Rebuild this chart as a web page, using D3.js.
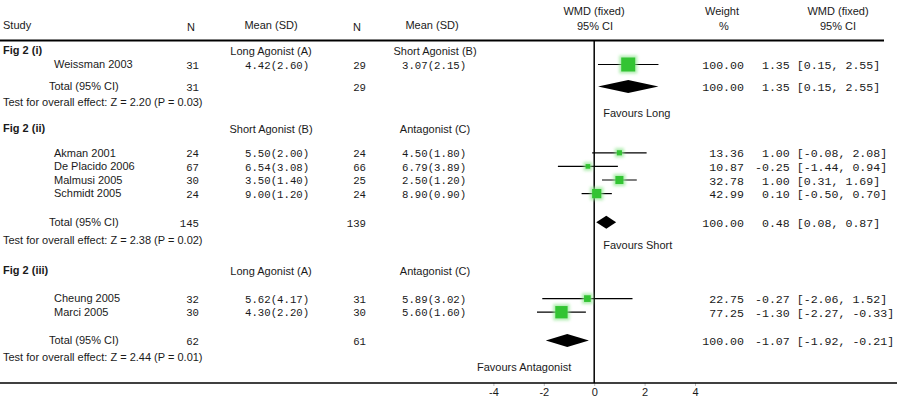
<!DOCTYPE html>
<html><head><meta charset="utf-8">
<script src="https://cdn.jsdelivr.net/npm/d3@7"></script>
<style>
html,body{margin:0;padding:0;background:#fff;}
svg{display:block;}
.t{font-family:"Liberation Sans",Arial,sans-serif;font-size:11px;fill:#1a1a1a;}
.b{font-weight:bold;}
.m{font-family:"Liberation Mono","Courier New",monospace;font-size:10.7px;fill:#1a1a1a;}
.m2{font-family:"Liberation Mono","Courier New",monospace;font-size:11.6px;fill:#1a1a1a;}
</style></head><body>
<svg id="c" width="901" height="406"></svg>
<script>
// ---------- data ----------
const groups = ["Fig 2 (i)", "Fig 2 (ii)", "Fig 2 (iii)"];
const armA = ["Long Agonist (A)", "Short Agonist (B)", "Long Agonist (A)"];
const armB = ["Short Agonist (B)", "Antagonist (C)", "Antagonist (C)"];
const favours = ["Favours Long", "Favours Short", "Favours Antagonist"];

const studies = ["Weissman 2003", "Akman 2001", "De Placido 2006", "Malmusi 2005", "Schmidt 2005", "Cheung 2005", "Marci 2005"];
const studyGroup = [0, 1, 1, 1, 1, 2, 2];
const nA = [31, 24, 67, 30, 24, 32, 30];
const meanA = [4.42, 5.50, 6.54, 3.50, 9.00, 5.62, 4.30];
const sdA = [2.60, 2.00, 3.08, 1.40, 1.20, 4.17, 2.20];
const nB = [29, 24, 66, 25, 24, 31, 30];
const meanB = [3.07, 4.50, 6.79, 2.50, 8.90, 5.89, 5.60];
const sdB = [2.15, 1.80, 3.89, 1.20, 0.90, 3.02, 1.60];
const weight = [100.00, 13.36, 10.87, 32.78, 42.99, 22.75, 77.25];
const wmd = [1.35, 1.00, -0.25, 1.00, 0.10, -0.27, -1.30];
const wmdLo = [0.15, -0.08, -1.44, 0.31, -0.50, -2.06, -2.27];
const wmdHi = [2.55, 2.08, 0.94, 1.69, 0.70, 1.52, -0.33];

const totalNA = [31, 145, 62];
const totalNB = [29, 139, 61];
const totalWeight = [100.00, 100.00, 100.00];
const totalWmd = [1.35, 0.48, -1.07];
const totalLo = [0.15, 0.08, -1.92];
const totalHi = [2.55, 0.87, -0.21];
const testZ = ["2.20", "2.38", "2.44"];
const testP = ["0.03", "0.02", "0.01"];

const ticks = [-4, -2, 0, 2, 4];

// ---------- layout ----------
const svg = d3.select("#c");
const x = d3.scaleLinear().domain([-4, 4]).range([493.4, 695]);
const x0 = x(0);
const headerY = [50, 128.5, 270];
const firstStudyY = [64.5, 152.8, 298.6];
const studyStep = 13.6;
const totalY = [86.5, 222.3, 340.6];
const testY = [101.8, 240, 356.8];
const favY = [113, 245, 367.5];
const topLineY = 40.5, axisY = 383;

const col = {name: 54, totalName: 49, nA: 199, meanA: 245, nB: 366, meanB: 402,
  armA: 271, armB: 435, weight: 744, wmd: 755};

function txt(cls, xx, yy, s, anchor) {
  return svg.append("text").attr("class", cls).attr("x", xx).attr("y", yy)
    .attr("dy", "0.35em").attr("text-anchor", anchor || "start")
    .attr("xml:space", "preserve").text(s);
}
const f2 = d3.format(".2f");
const fmt = v => f2(v).replace("\u2212", "-");
const fmtCI = (e, l, h) => fmt(e).padStart(5, " ") + " [" + fmt(l) + ", " + fmt(h) + "]";

// glow filter
const defs = svg.append("defs");
const flt = defs.append("filter").attr("id", "glow").attr("x", "-100%").attr("y", "-100%")
  .attr("width", "300%").attr("height", "300%");
flt.append("feGaussianBlur").attr("stdDeviation", 1.8);

// header
txt("t", 3, 25.5, "Study");
txt("t", 191, 27, "N", "middle");
txt("t", 271, 25.5, "Mean (SD)", "middle");
txt("t", 357, 27, "N", "middle");
txt("t", 432, 25.5, "Mean (SD)", "middle");
txt("t", 594, 11.5, "WMD (fixed)", "middle");
txt("t", 595, 26.5, "95% CI", "middle");
txt("t", 722, 11.5, "Weight", "middle");
txt("t", 724, 26.5, "%", "middle");
txt("t", 838, 11.5, "WMD (fixed)", "middle");
txt("t", 838, 26.5, "95% CI", "middle");

svg.append("line").attr("x1", 0).attr("x2", 884).attr("y1", topLineY).attr("y2", topLineY)
  .attr("stroke", "#000").attr("stroke-width", 1.8);

// zero line
svg.append("line").attr("x1", x0).attr("x2", x0).attr("y1", topLineY).attr("y2", axisY)
  .attr("stroke", "#000").attr("stroke-width", 1.5);

// axis
const axis = d3.axisBottom(x).tickValues(ticks).tickSize(3).tickFormat(d => String(d));
const ag = svg.append("g").attr("transform", `translate(0,${axisY})`).call(axis);
ag.select(".domain").remove();
ag.selectAll("line").attr("stroke", "#bbb");
ag.selectAll("text").attr("class", "t").attr("y", 5).attr("dy", "0.71em")
  .style("font-family", "Liberation Sans, Arial, sans-serif").style("font-size", "11px").attr("fill", "#1a1a1a");
svg.append("line").attr("x1", 0).attr("x2", 897).attr("y1", axisY).attr("y2", axisY)
  .attr("stroke", "#000").attr("stroke-width", 1.5);

// groups
groups.forEach((g, gi) => {
  txt("t b", 3, headerY[gi], g);
  txt("t", col.armA, headerY[gi] + 1, armA[gi], "middle");
  txt("t", col.armB, headerY[gi] + 1, armB[gi], "middle");

  const idx = studies.map((s, i) => i).filter(i => studyGroup[i] === gi);
  idx.forEach((i, k) => {
    const y = firstStudyY[gi] + k * studyStep;
    txt("t", col.name, y, studies[i]);
    txt("m", col.nA, y + 0.5, String(nA[i]), "end");
    txt("m", col.meanA, y + 0.5, f2(meanA[i]) + "(" + f2(sdA[i]) + ")");
    txt("m", col.nB, y + 0.5, String(nB[i]), "end");
    txt("m", col.meanB, y + 0.5, f2(meanB[i]) + "(" + f2(sdB[i]) + ")");
    txt("m2", col.weight, y + 0.5, f2(weight[i]), "end");
    txt("m2", col.wmd, y + 0.5, fmtCI(wmd[i], wmdLo[i], wmdHi[i]));
    // CI line
    svg.append("line").attr("x1", x(wmdLo[i])).attr("x2", x(wmdHi[i]))
      .attr("y1", y).attr("y2", y).attr("stroke", "#000").attr("stroke-width", 1.2);
    const s = Math.sqrt(weight[i]) * 1.4;
    svg.append("rect").attr("x", x(wmd[i]) - s / 2 - 2).attr("y", y - s / 2 - 2)
      .attr("width", s + 4).attr("height", s + 4).attr("fill", "#8fe68f")
      .attr("opacity", 0.7).attr("filter", "url(#glow)");
    svg.append("rect").attr("x", x(wmd[i]) - s / 2).attr("y", y - s / 2)
      .attr("width", s).attr("height", s).attr("fill", "#33c433");
  });

  const ty = totalY[gi];
  txt("t", col.totalName, ty, "Total (95% CI)");
  txt("m", col.nA, ty + 0.5, String(totalNA[gi]), "end");
  txt("m", col.nB, ty + 0.5, String(totalNB[gi]), "end");
  txt("m2", col.weight, ty + 0.5, f2(totalWeight[gi]), "end");
  txt("m2", col.wmd, ty + 0.5, fmtCI(totalWmd[gi], totalLo[gi], totalHi[gi]));
  const h = 6.5;
  svg.append("path").attr("d", d3.line()([
    [x(totalLo[gi]), ty], [x(totalWmd[gi]), ty - h], [x(totalHi[gi]), ty], [x(totalWmd[gi]), ty + h]
  ]) + "Z").attr("fill", "#000");

  txt("t", 3, testY[gi], "Test for overall effect: Z = " + testZ[gi] + " (P = " + testP[gi] + ")");

  if (gi < 2) txt("t", x0 + 9, favY[gi], favours[gi]);
  else txt("t", x0 - 23, favY[gi], favours[gi], "end");
});
</script>
</body></html>
